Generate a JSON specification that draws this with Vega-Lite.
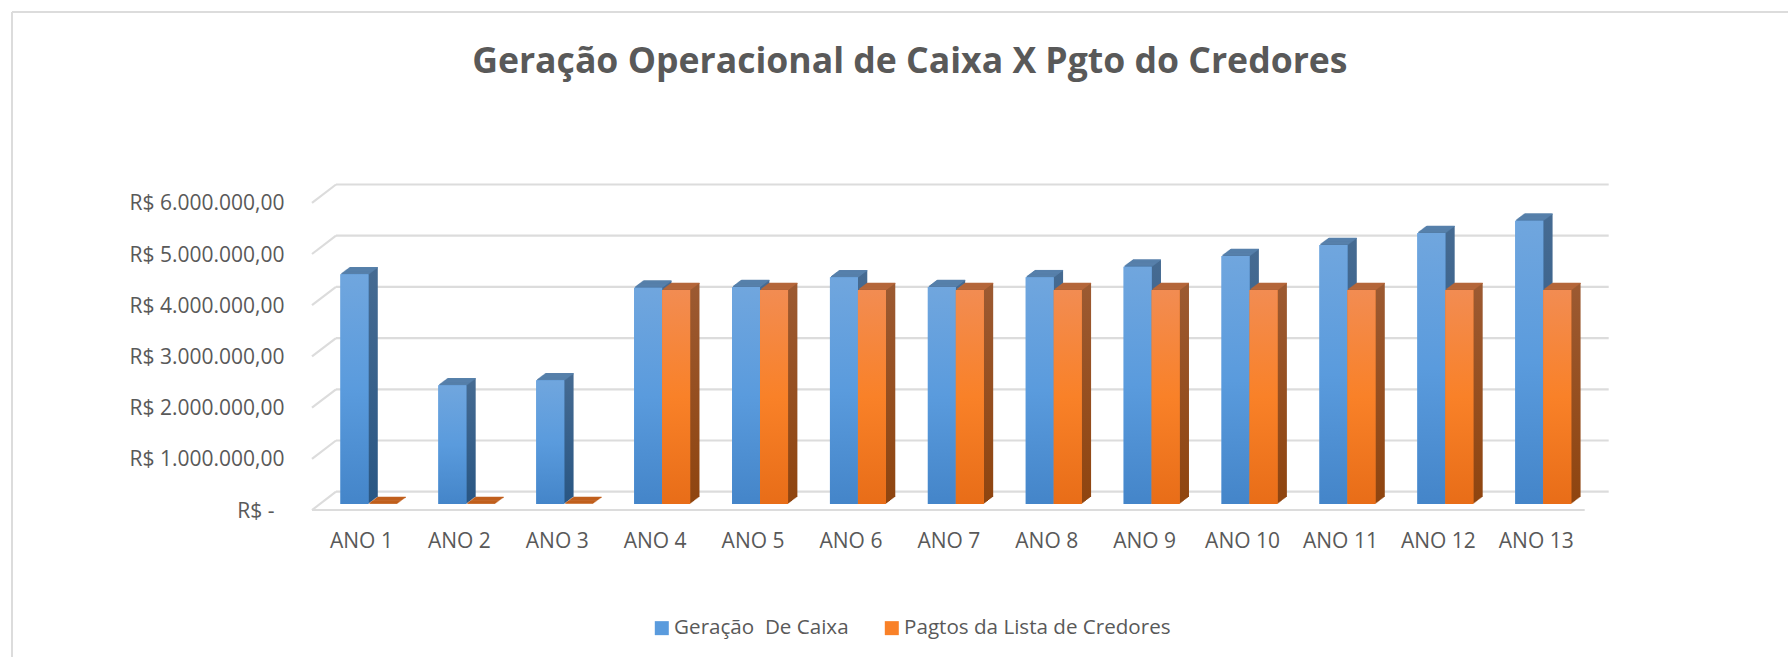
{"$schema":"https://vega.github.io/schema/vega-lite/v6.json","width":1272.7,"height":307.2,"autosize":{"type":"none"},"padding":{"left":319.5,"top":196.8,"right":195.8,"bottom":153},"background":"white",
"title":{"text":"Geração Operacional de Caixa X Pgto do Credores","font":"Open Sans","fontSize":35.6,"fontWeight":"bold","color":"#595959","anchor":"middle","dx":-46,"offset":-70},
"config":{"view":{"stroke":null},"font":"Open Sans"},
"datasets":{"moldura":[{"f":1}],"linhas":[{"t":0},{"t":1000000},{"t":2000000},{"t":3000000},{"t":4000000},{"t":5000000},{"t":6000000}],
"v":[{"ano":"ANO 1","serie":"Geração  De Caixa","valor":4486000},{"ano":"ANO 2","serie":"Geração  De Caixa","valor":2318000},{"ano":"ANO 3","serie":"Geração  De Caixa","valor":2415000},{"ano":"ANO 4","serie":"Geração  De Caixa","valor":4225000},{"ano":"ANO 5","serie":"Geração  De Caixa","valor":4238000},{"ano":"ANO 6","serie":"Geração  De Caixa","valor":4427000},{"ano":"ANO 7","serie":"Geração  De Caixa","valor":4238000},{"ano":"ANO 8","serie":"Geração  De Caixa","valor":4430000},{"ano":"ANO 9","serie":"Geração  De Caixa","valor":4635000},{"ano":"ANO 10","serie":"Geração  De Caixa","valor":4844000},{"ano":"ANO 11","serie":"Geração  De Caixa","valor":5059000},{"ano":"ANO 12","serie":"Geração  De Caixa","valor":5293000},{"ano":"ANO 13","serie":"Geração  De Caixa","valor":5533000},
{"ano":"ANO 1","serie":"Pagtos da Lista de Credores","valor":0},{"ano":"ANO 2","serie":"Pagtos da Lista de Credores","valor":0},{"ano":"ANO 3","serie":"Pagtos da Lista de Credores","valor":0},{"ano":"ANO 4","serie":"Pagtos da Lista de Credores","valor":4180000},{"ano":"ANO 5","serie":"Pagtos da Lista de Credores","valor":4180000},{"ano":"ANO 6","serie":"Pagtos da Lista de Credores","valor":4180000},{"ano":"ANO 7","serie":"Pagtos da Lista de Credores","valor":4180000},{"ano":"ANO 8","serie":"Pagtos da Lista de Credores","valor":4180000},{"ano":"ANO 9","serie":"Pagtos da Lista de Credores","valor":4180000},{"ano":"ANO 10","serie":"Pagtos da Lista de Credores","valor":4180000},{"ano":"ANO 11","serie":"Pagtos da Lista de Credores","valor":4180000},{"ano":"ANO 12","serie":"Pagtos da Lista de Credores","valor":4180000},{"ano":"ANO 13","serie":"Pagtos da Lista de Credores","valor":4180000}]},
"layer":[
{"data":{"name":"moldura"},"mark":{"type":"rule","color":"#dcdcdc","strokeWidth":2},"encoding":{"x":{"value":-307.5},"y":{"value":-184.8},"y2":{"value":460.2}}},
{"data":{"name":"moldura"},"mark":{"type":"rule","color":"#dcdcdc","strokeWidth":2},"encoding":{"x":{"value":-307.5},"x2":{"value":1468.5},"y":{"value":-184.8}}},
{"data":{"name":"linhas"},"layer":[
{"mark":{"type":"rule","color":"#dcdcdc","strokeWidth":2.2,"xOffset":16.5,"x2Offset":16.5,"yOffset":-12.3},"encoding":{"x":{"value":0},"x2":{"value":1272.7},"y":{"field":"t","type":"quantitative","scale":{"domain":[0,6000000],"nice":false},"axis":{"title":null,"grid":false,"domain":false,"ticks":false,"values":[0,1000000,2000000,3000000,4000000,5000000,6000000],"labelExpr":"datum.value==0?'R$ -':'R$ '+(datum.value/1000000)+'.000.000,00'","labelFont":"Open Sans","labelFontSize":21,"labelColor":"#595959","labelPadding":{"condition":{"test":"datum.value==0","value":45.5},"value":35.5},"labelOffset":7,"labelBound":false,"labelFlush":false}}}},
{"mark":{"type":"rule","color":"#dcdcdc","strokeWidth":2.2,"xOffset":-7.5,"x2Offset":16.5,"yOffset":6,"y2Offset":-12.3},"encoding":{"x":{"value":0},"x2":{"value":0},"y":{"field":"t","type":"quantitative"},"y2":{"field":"t"}}},
{"transform":[{"filter":"datum.t==0"}],"mark":{"type":"rule","color":"#dcdcdc","strokeWidth":2.2,"xOffset":-7.5,"x2Offset":-7.5,"yOffset":6},"encoding":{"x":{"value":0},"x2":{"value":1272.7},"y":{"field":"t","type":"quantitative"}}}
]},
{"data":{"name":"v"},"transform":[{"filter":"datum.serie=='Geração  De Caixa'"}],
"encoding":{"x":{"field":"ano","type":"nominal","sort":null,"scale":{"paddingInner":0,"paddingOuter":0},"axis":{"title":null,"domain":false,"ticks":false,"labelAngle":0,"labelFont":"Open Sans","labelFontSize":21,"labelColor":"#595959","labelPadding":26,"labelOffset":-7}},"y":{"field":"valor","type":"quantitative"}},
"layer":[
{"encoding":{"y2":{"datum":0}},"layer":[
{"mark":{"type":"bar","size":28,"xOffset":-12.96,"yOffset":-0.78,"y2Offset":-0.78,"fill":{"gradient":"linear","x1":0,"y1":0,"x2":0,"y2":1,"stops":[{"offset":0,"color":"#466b92"},{"offset":1,"color":"#2a5784"}]}}},
{"mark":{"type":"bar","size":28,"xOffset":-11.93,"yOffset":-1.56,"y2Offset":-1.56,"fill":{"gradient":"linear","x1":0,"y1":0,"x2":0,"y2":1,"stops":[{"offset":0,"color":"#466b92"},{"offset":1,"color":"#2a5784"}]}}},
{"mark":{"type":"bar","size":28,"xOffset":-10.89,"yOffset":-2.33,"y2Offset":-2.33,"fill":{"gradient":"linear","x1":0,"y1":0,"x2":0,"y2":1,"stops":[{"offset":0,"color":"#466b92"},{"offset":1,"color":"#2a5784"}]}}},
{"mark":{"type":"bar","size":28,"xOffset":-9.85,"yOffset":-3.11,"y2Offset":-3.11,"fill":{"gradient":"linear","x1":0,"y1":0,"x2":0,"y2":1,"stops":[{"offset":0,"color":"#466b92"},{"offset":1,"color":"#2a5784"}]}}},
{"mark":{"type":"bar","size":28,"xOffset":-8.82,"yOffset":-3.89,"y2Offset":-3.89,"fill":{"gradient":"linear","x1":0,"y1":0,"x2":0,"y2":1,"stops":[{"offset":0,"color":"#466b92"},{"offset":1,"color":"#2a5784"}]}}},
{"mark":{"type":"bar","size":28,"xOffset":-7.78,"yOffset":-4.67,"y2Offset":-4.67,"fill":{"gradient":"linear","x1":0,"y1":0,"x2":0,"y2":1,"stops":[{"offset":0,"color":"#466b92"},{"offset":1,"color":"#2a5784"}]}}},
{"mark":{"type":"bar","size":28,"xOffset":-6.74,"yOffset":-5.44,"y2Offset":-5.44,"fill":{"gradient":"linear","x1":0,"y1":0,"x2":0,"y2":1,"stops":[{"offset":0,"color":"#466b92"},{"offset":1,"color":"#2a5784"}]}}},
{"mark":{"type":"bar","size":28,"xOffset":-5.7,"yOffset":-6.22,"y2Offset":-6.22,"fill":{"gradient":"linear","x1":0,"y1":0,"x2":0,"y2":1,"stops":[{"offset":0,"color":"#466b92"},{"offset":1,"color":"#2a5784"}]}}},
{"mark":{"type":"bar","size":28,"xOffset":-4.67,"yOffset":-7,"y2Offset":-7,"fill":{"gradient":"linear","x1":0,"y1":0,"x2":0,"y2":1,"stops":[{"offset":0,"color":"#466b92"},{"offset":1,"color":"#2a5784"}]}}}
]},
{"layer":[
{"mark":{"type":"tick","orient":"horizontal","size":28,"thickness":1.3,"opacity":1,"color":"#5780ab","xOffset":-12.96,"yOffset":-0.78}},
{"mark":{"type":"tick","orient":"horizontal","size":28,"thickness":1.3,"opacity":1,"color":"#5780ab","xOffset":-11.93,"yOffset":-1.56}},
{"mark":{"type":"tick","orient":"horizontal","size":28,"thickness":1.3,"opacity":1,"color":"#5780ab","xOffset":-10.89,"yOffset":-2.33}},
{"mark":{"type":"tick","orient":"horizontal","size":28,"thickness":1.3,"opacity":1,"color":"#5780ab","xOffset":-9.85,"yOffset":-3.11}},
{"mark":{"type":"tick","orient":"horizontal","size":28,"thickness":1.3,"opacity":1,"color":"#5780ab","xOffset":-8.82,"yOffset":-3.89}},
{"mark":{"type":"tick","orient":"horizontal","size":28,"thickness":1.3,"opacity":1,"color":"#5780ab","xOffset":-7.78,"yOffset":-4.67}},
{"mark":{"type":"tick","orient":"horizontal","size":28,"thickness":1.3,"opacity":1,"color":"#5780ab","xOffset":-6.74,"yOffset":-5.44}},
{"mark":{"type":"tick","orient":"horizontal","size":28,"thickness":1.3,"opacity":1,"color":"#5780ab","xOffset":-5.7,"yOffset":-6.22}},
{"mark":{"type":"tick","orient":"horizontal","size":28,"thickness":1.3,"opacity":1,"color":"#5780ab","xOffset":-4.67,"yOffset":-6.6}}
]},
{"mark":{"type":"bar","size":28,"xOffset":-14},"encoding":{"y2":{"datum":0},"color":{"field":"serie","type":"nominal","scale":{"domain":["Geração  De Caixa","Pagtos da Lista de Credores"],"range":["#5a9bdd","#f98128"]},"legend":{"title":null,"orient":"none","legendX":332,"legendY":421,"direction":"horizontal","symbolType":"square","symbolSize":196,"symbolStrokeWidth":0,"symbolOpacity":1,"labelExpr":"replace(datum.label,'  ','\u00a0\u00a0')","labelFont":"Open Sans","labelFontSize":20.6,"labelColor":"#595959","labelOffset":2,"labelLimit":400,"columnPadding":32}}}},
{"mark":{"type":"bar","size":28,"xOffset":-14,"fill":{"gradient":"linear","x1":0,"y1":0,"x2":0,"y2":1,"stops":[{"offset":0,"color":"#70a6de"},{"offset":0.5,"color":"#5a9bdd"},{"offset":1,"color":"#4485c9"}]}},"encoding":{"y2":{"datum":0}}}
]},
{"data":{"name":"v"},"transform":[{"filter":"datum.serie=='Pagtos da Lista de Credores'"}],
"encoding":{"x":{"field":"ano","type":"nominal","sort":null},"y":{"field":"valor","type":"quantitative"}},
"layer":[
{"encoding":{"y2":{"datum":0}},"layer":[
{"mark":{"type":"bar","size":28,"xOffset":15.04,"yOffset":-0.78,"y2Offset":-0.78,"fill":{"gradient":"linear","x1":0,"y1":0,"x2":0,"y2":1,"stops":[{"offset":0,"color":"#9c5a32"},{"offset":1,"color":"#8f4510"}]}}},
{"mark":{"type":"bar","size":28,"xOffset":16.07,"yOffset":-1.56,"y2Offset":-1.56,"fill":{"gradient":"linear","x1":0,"y1":0,"x2":0,"y2":1,"stops":[{"offset":0,"color":"#9c5a32"},{"offset":1,"color":"#8f4510"}]}}},
{"mark":{"type":"bar","size":28,"xOffset":17.11,"yOffset":-2.33,"y2Offset":-2.33,"fill":{"gradient":"linear","x1":0,"y1":0,"x2":0,"y2":1,"stops":[{"offset":0,"color":"#9c5a32"},{"offset":1,"color":"#8f4510"}]}}},
{"mark":{"type":"bar","size":28,"xOffset":18.15,"yOffset":-3.11,"y2Offset":-3.11,"fill":{"gradient":"linear","x1":0,"y1":0,"x2":0,"y2":1,"stops":[{"offset":0,"color":"#9c5a32"},{"offset":1,"color":"#8f4510"}]}}},
{"mark":{"type":"bar","size":28,"xOffset":19.18,"yOffset":-3.89,"y2Offset":-3.89,"fill":{"gradient":"linear","x1":0,"y1":0,"x2":0,"y2":1,"stops":[{"offset":0,"color":"#9c5a32"},{"offset":1,"color":"#8f4510"}]}}},
{"mark":{"type":"bar","size":28,"xOffset":20.22,"yOffset":-4.67,"y2Offset":-4.67,"fill":{"gradient":"linear","x1":0,"y1":0,"x2":0,"y2":1,"stops":[{"offset":0,"color":"#9c5a32"},{"offset":1,"color":"#8f4510"}]}}},
{"mark":{"type":"bar","size":28,"xOffset":21.26,"yOffset":-5.44,"y2Offset":-5.44,"fill":{"gradient":"linear","x1":0,"y1":0,"x2":0,"y2":1,"stops":[{"offset":0,"color":"#9c5a32"},{"offset":1,"color":"#8f4510"}]}}},
{"mark":{"type":"bar","size":28,"xOffset":22.3,"yOffset":-6.22,"y2Offset":-6.22,"fill":{"gradient":"linear","x1":0,"y1":0,"x2":0,"y2":1,"stops":[{"offset":0,"color":"#9c5a32"},{"offset":1,"color":"#8f4510"}]}}},
{"mark":{"type":"bar","size":28,"xOffset":23.33,"yOffset":-7,"y2Offset":-7,"fill":{"gradient":"linear","x1":0,"y1":0,"x2":0,"y2":1,"stops":[{"offset":0,"color":"#9c5a32"},{"offset":1,"color":"#8f4510"}]}}}
]},
{"encoding":{"color":{"condition":{"test":"datum.valor==0","value":"#c05f1c"},"value":"#b5673b"}},"layer":[
{"mark":{"type":"tick","orient":"horizontal","size":28,"thickness":1.3,"opacity":1,"xOffset":15.04,"yOffset":-0.78}},
{"mark":{"type":"tick","orient":"horizontal","size":28,"thickness":1.3,"opacity":1,"xOffset":16.07,"yOffset":-1.56}},
{"mark":{"type":"tick","orient":"horizontal","size":28,"thickness":1.3,"opacity":1,"xOffset":17.11,"yOffset":-2.33}},
{"mark":{"type":"tick","orient":"horizontal","size":28,"thickness":1.3,"opacity":1,"xOffset":18.15,"yOffset":-3.11}},
{"mark":{"type":"tick","orient":"horizontal","size":28,"thickness":1.3,"opacity":1,"xOffset":19.18,"yOffset":-3.89}},
{"mark":{"type":"tick","orient":"horizontal","size":28,"thickness":1.3,"opacity":1,"xOffset":20.22,"yOffset":-4.67}},
{"mark":{"type":"tick","orient":"horizontal","size":28,"thickness":1.3,"opacity":1,"xOffset":21.26,"yOffset":-5.44}},
{"mark":{"type":"tick","orient":"horizontal","size":28,"thickness":1.3,"opacity":1,"xOffset":22.3,"yOffset":-6.22}},
{"mark":{"type":"tick","orient":"horizontal","size":28,"thickness":1.3,"opacity":1,"xOffset":23.33,"yOffset":-6.6}}
]},
{"mark":{"type":"bar","size":28,"xOffset":14},"encoding":{"y2":{"datum":0},"color":{"field":"serie","type":"nominal"}}},
{"mark":{"type":"bar","size":28,"xOffset":14,"fill":{"gradient":"linear","x1":0,"y1":0,"x2":0,"y2":1,"stops":[{"offset":0,"color":"#f28c52"},{"offset":0.5,"color":"#f98128"},{"offset":1,"color":"#e86d18"}]}},"encoding":{"y2":{"datum":0}}}
]}
]}
